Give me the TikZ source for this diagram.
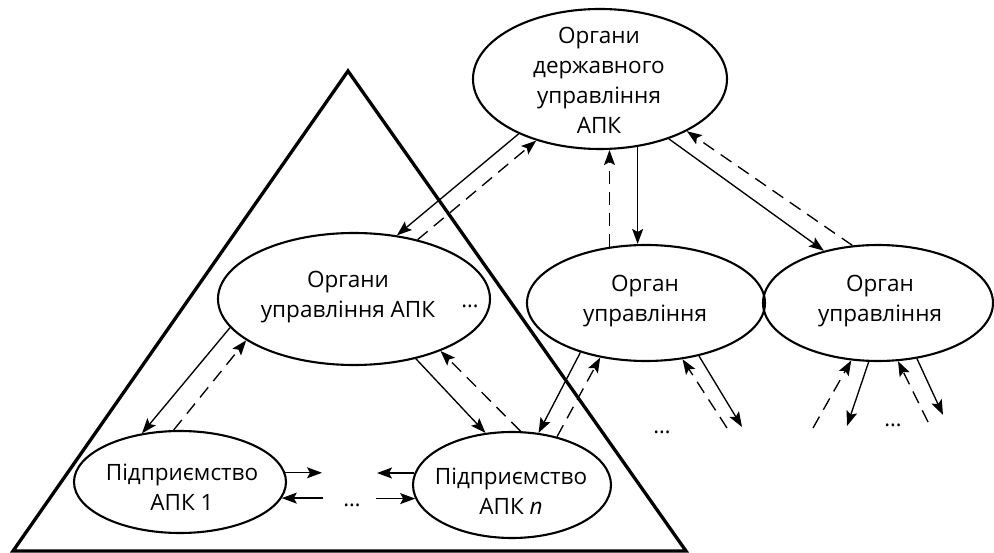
\documentclass[tikz,border=0pt]{standalone}
\usepackage{fontspec}
\setmainfont{Open Sans}
\usetikzlibrary{arrows.meta,shapes.geometric}
\begin{document}
\begin{tikzpicture}[x=1pt,y=-1pt,
  ell/.style={draw, ellipse, line width=2.1pt, inner sep=0pt},
  txt/.style={align=center, inner sep=0pt, font=\fontsize{22.5}{30}\selectfont},
  conn/.style={line width=1.35pt, -{Stealth[length=15pt,width=11pt,inset=3pt]}},
  dconn/.style={conn, dash pattern=on 13pt off 8pt},
  tri/.style={line width=3.3pt, line join=miter},
  dotlab/.style={anchor=base, inner sep=0pt, font=\fontsize{22}{30}\selectfont}]
\useasboundingbox (0,0) rectangle (994,553);

% triangle
\coordinate (A) at (348,71);
\coordinate (B) at (13,551);
\coordinate (C) at (686,551);
\draw[tri] (A) -- (B) -- (C) -- cycle;

% ellipses
\node[ell, minimum width=254pt, minimum height=140pt] (T) at (600,79) {};
\node[ell, minimum width=272pt, minimum height=132pt] (L) at (354,299) {};
\node[ell, minimum width=238pt, minimum height=116pt] (O1) at (646,303) {};
\node[ell, minimum width=230pt, minimum height=116pt] (O2) at (878,303) {};
\node[ell, minimum width=212pt, minimum height=102pt] (P1) at (180,482) {};
\node[ell, minimum width=198pt, minimum height=106pt] (Pn) at (512,485) {};

% texts
\node[txt] (Tt) at (599,80) {Органи\\державного\\управління\\АПК};
\node[txt] (Lt) at (348,297) {Органи\\управління АПК};
\node[txt] (O1t) at (645,301) {Орган\\управління};
\node[txt] (O2t) at (880,301) {Орган\\управління};
\node[txt] (P1t) at (182,487) {Підприємство\\АПК 1};
\node[txt] (Pnt) at (511,491) {Підприємство\\АПК \textit{n}};

% dots
\node[dotlab] (d1) at (352,506) {\dots};
\node[dotlab] (d2) at (470,308) {\dots};
\node[dotlab] (d3) at (662,434) {\dots};
\node[dotlab] (d4) at (893,427) {\dots};

% connectors top level
\draw[conn] (T.214) -- (L.56.5);
\draw[dconn] (L.43) -- (T.224);
\draw[conn] (T.299) -- (T.299 |- O1.north);
\draw[dconn] (O1.123) -- (O1.123 |- T.south);
\draw[conn] (T.319) -- (O2.136);
\draw[dconn] (O2.114) -- (T.329.5);

% connectors middle level
\draw[conn] (L.193.7) -- (P1.128.8);
\draw[dconn] (P1.97.7) -- (L.201.9);
\draw[conn] (L.316) -- (Pn.117.4);
\draw[dconn] (Pn.81.3) -- (L.329.8);
\draw[conn] (O1.217) -- (Pn.63.4);
\draw[dconn] (Pn.47.3) -- (O1.230);

% dangling connectors
\coordinate (f1) at (727,428);
\coordinate (f2) at (742,427);
\coordinate (f3) at (813,428);
\coordinate (f4) at (847,426);
\coordinate (f5) at (928,422);
\coordinate (f6) at (943,415);
\draw[dconn] (f1) -- (O1.303.9);
\draw[conn] (O1.315) -- (f2);
\draw[dconn] (f3) -- (O2.245.9);
\draw[conn] (O2.261.2) -- (f4);
\draw[dconn] (f5) -- (O2.289.3);
\draw[conn] (O2.305.5) -- (f6);

% horizontal arrows between enterprises
\coordinate (h1) at (322,473);
\coordinate (h2) at (323,498);
\coordinate (h3) at (377,473);
\coordinate (h4) at (376,498);
\draw[conn] (P1.5) -- (P1.5 -| h1);
\draw[conn] (h2 |- P1.351) -- (P1.351);
\draw[conn] (Pn.173) -- (Pn.173 -| h3);
\draw[conn] (h4 |- Pn.188) -- (Pn.188);
\end{tikzpicture}
\end{document}
